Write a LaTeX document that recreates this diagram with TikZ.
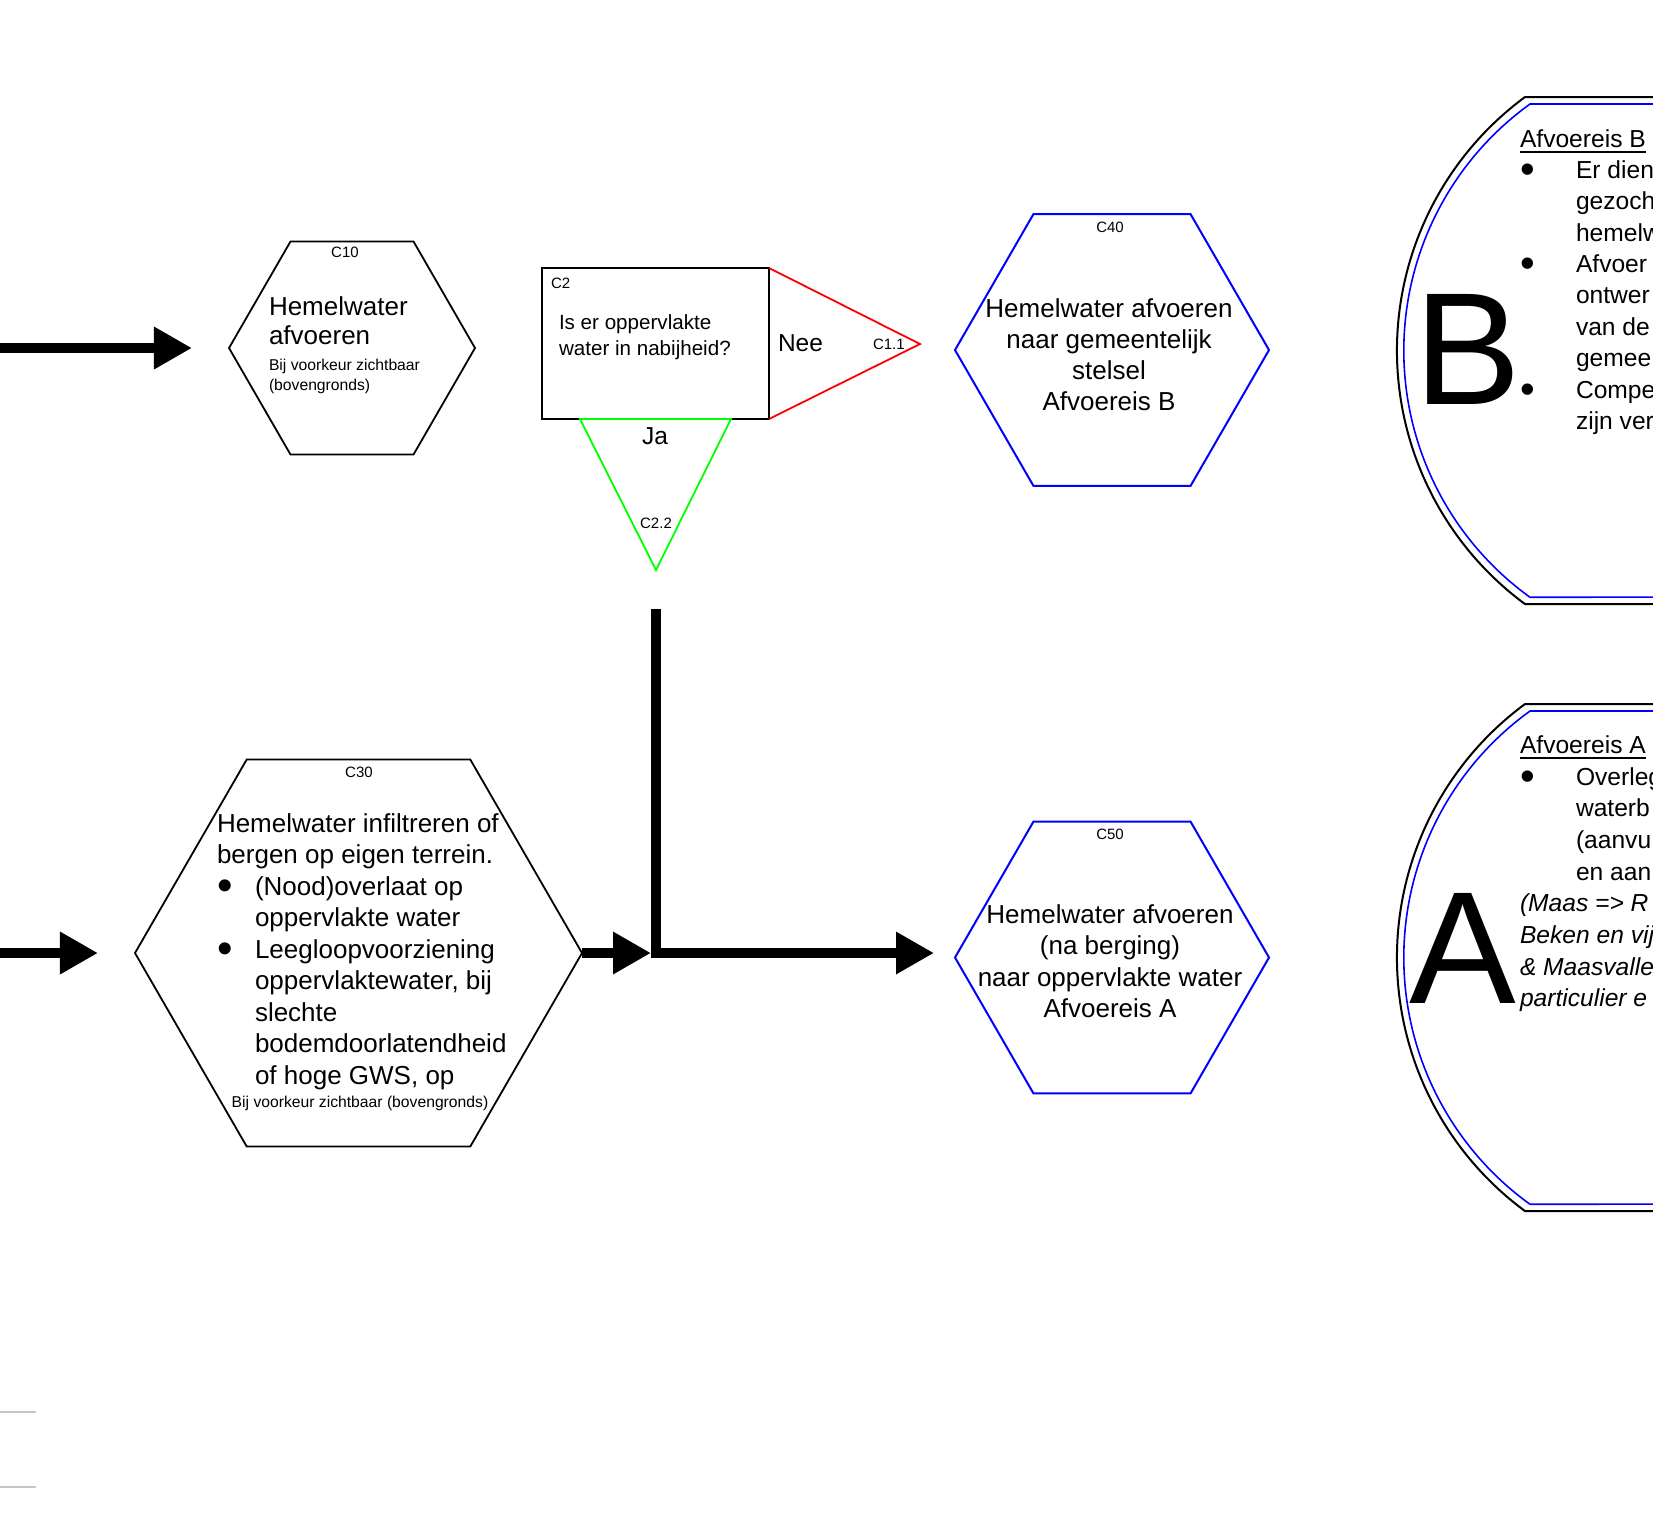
\documentclass[tikz,border=0pt]{standalone}
\usepackage{fontspec}
\setmainfont{Liberation Sans}
\usetikzlibrary{shapes.geometric,arrows.meta}

% one line of a text block
\newcommand\LineL[1]{\hbox{#1}}
% one centred line (zero width, centred on the node's anchor)
\newcommand\LineC[1]{\hbox to 0pt{\hss#1\hss}}
% enlarged bullet, kept on the same centre height
\newcommand\BigBul{\raisebox{-0.22em}{\scalebox{1.7}{\textbullet}}}
% bulleted line: bullet, then text at the given indent
\newcommand\LineB[2]{\hbox{\hbox to #1{\BigBul\hss}#2}}
% continuation line at the given indent
\newcommand\LineI[2]{\hbox{\kern#1#2}}
\newcommand\fs[2]{\fontsize{#1}{#2}\selectfont}

\begin{document}
\begin{tikzpicture}[x=0.5pt,y=-0.5pt,
  every node/.append style={outer sep=0pt},
  hexblack/.style={regular polygon, regular polygon sides=6, draw=black, line width=0.9pt, inner sep=0pt},
  hexblue/.style={regular polygon, regular polygon sides=6, draw=blue, line width=1pt, inner sep=0pt},
  txt/.style={inner sep=0pt, anchor=base west},
  txtc/.style={inner sep=0pt, anchor=base},
  flow/.style={line width=5pt, -{Triangle[length=19pt,width=20pt]}},
  eisframe/.style={line width=1pt, draw=black},
  eisinner/.style={line width=0.8pt, draw=blue}]

\useasboundingbox (0,0) rectangle (1653,1528);
\fill[white] (0,0) rectangle (1653,1528);
\clip (0,0) rectangle (1653,1528);

% ---- process steps ----
\node[hexblack, minimum size=123pt] (c10) at (352,348) {};
\node[draw, line width=0.9pt, minimum width=113.5pt, minimum height=75.5pt, inner sep=0pt] (c2) at (655.5,343.5) {};
\node[hexblue, minimum size=157pt] (c40) at (1112,350) {};
\node[hexblack, minimum size=223.5pt] (c30) at (358.5,953) {};
\node[hexblue, minimum size=157pt] (c50) at (1112,957.5) {};

% ---- decision outcomes ----
\coordinate (neetip) at (920,344);
\draw[red, line width=0.9pt] (c2.north east) -- (neetip) -- (c2.south east);
\coordinate (jaL) at (580,419);
\coordinate (jaR) at (731,419);
\coordinate (jatip) at (656,570);
\draw[green, line width=0.9pt] (jaL) -- (jatip) -- (jaR) -- cycle;

% ---- flow arrows ----
\coordinate (in1) at (0,348);
\coordinate (in2) at (0,953);
\coordinate (j) at (656,953);
\coordinate (vtop) at (656,609);
\draw[flow, shorten >=18.5pt] (in1) -- (c10);
\draw[flow, shorten >=18.5pt] (in2) -- (c30);
\draw[flow, shorten >=2.5pt] (c30) -- (j);
\draw[flow, shorten >=10.5pt] (vtop) -- (j) -- (j -| c50.west);

% ---- requirement panels B and A ----
\foreach \o in {0,607} {
  \draw[eisframe] (1720,{97+\o}) -- (1525,{97+\o})
     arc[start angle=126.4, end angle=233.6, radius=157.5pt] -- (1720,{604+\o});
  \draw[eisinner] (1720,{104+\o}) -- (1530,{104+\o})
     arc[start angle=125.8, end angle=234.2, radius=152.05pt] -- (1720,{597+\o});
}
\node[txt] (bigB) at (1414,404) {\fs{80pt}{80pt}B};
\node[txt] (bigA) at (1409,1003) {\fs{80pt}{80pt}A};

% ---- texts of C10 ----
\node[txtc] (c10id) at (345,257) {\fs{7.5pt}{9pt}C10};
\node[txt] (c10txt) at (269,315) {\fs{13pt}{14.5pt}\vtop{\LineL{Hemelwater}\LineL{afvoeren}}};
\node[txt] (c10sub) at (269,370) {\fs{7.85pt}{10pt}\vtop{\LineL{Bij voorkeur zichtbaar}\LineL{(bovengronds)}}};

% ---- texts of C2 ----
\node[txt] (c2id) at (551,288) {\fs{7.5pt}{9pt}C2};
\node[txt] (c2txt) at (559,329) {\fs{10.3pt}{13.2pt}\vtop{\LineL{Is er oppervlakte}\LineL{water in nabijheid?}}};
\node[txt] (nee) at (778,351) {\fs{12.25pt}{14pt}Nee};
\node[txt] (c11) at (873,349) {\fs{7.5pt}{9pt}C1.1};
\node[txtc] (ja) at (655,444) {\fs{12.25pt}{14pt}Ja};
\node[txtc] (c22) at (656,528) {\fs{7.5pt}{9pt}C2.2};

% ---- texts of C40 ----
\node[txtc] (c40id) at (1110,232) {\fs{7.5pt}{9pt}C40};
\node[txtc] (c40txt) at (1109,317) {\fs{13pt}{15.5pt}\vtop{\LineC{Hemelwater afvoeren}\LineC{naar gemeentelijk}\LineC{stelsel}\LineC{Afvoereis B}}};

% ---- texts of C30 ----
\node[txtc] (c30id) at (359,777) {\fs{7.5pt}{9pt}C30};
\node[txt] (c30txt) at (217,832) {\fs{13pt}{15.75pt}\vtop{
  \LineL{Hemelwater infiltreren of}
  \LineL{bergen op eigen terrein.}
  \LineB{19pt}{(Nood)overlaat op}
  \LineI{19pt}{oppervlakte water}
  \LineB{19pt}{Leegloopvoorziening}
  \LineI{19pt}{oppervlaktewater, bij}
  \LineI{19pt}{slechte}
  \LineI{19pt}{bodemdoorlatendheid}
  \LineI{19pt}{of hoge GWS, op}}};
\node[txtc] (c30sub) at (360,1107) {\fs{7.85pt}{9pt}Bij voorkeur zichtbaar (bovengronds)};

% ---- texts of C50 ----
\node[txtc] (c50id) at (1110,839) {\fs{7.5pt}{9pt}C50};
\node[txtc] (c50txt) at (1110,923) {\fs{13pt}{15.75pt}\vtop{\LineC{Hemelwater afvoeren}\LineC{(na berging)}\LineC{naar oppervlakte water}\LineC{Afvoereis A}}};

% ---- panel B text ----
\node[txt] (btitle) at (1520,147) {\fs{12.3pt}{15.7pt}Afvoereis B};
\draw[line width=1pt] ([yshift=-2.5pt]btitle.base west) -- ([yshift=-2.5pt]btitle.base east);
\node[txt] (blist) at (1520,178.3) {\fs{12.3pt}{15.7pt}\vtop{
  \LineB{28pt}{Er dien}
  \LineI{28pt}{gezoch}
  \LineI{28pt}{hemelw}
  \LineB{28pt}{Afvoer}
  \LineI{28pt}{ontwer}
  \LineI{28pt}{van de}
  \LineI{28pt}{gemee}
  \LineB{28pt}{Compe}
  \LineI{28pt}{zijn ver}}};

% ---- panel A text ----
\node[txt] (atitle) at (1520,753) {\fs{12.3pt}{15.85pt}Afvoereis A};
\draw[line width=1pt] ([yshift=-2.5pt]atitle.base west) -- ([yshift=-2.5pt]atitle.base east);
\node[txt] (alist) at (1520,785) {\fs{12.3pt}{15.85pt}\vtop{
  \LineB{28pt}{Overleg}
  \LineI{28pt}{waterb}
  \LineI{28pt}{(aanvu}
  \LineI{28pt}{en aan}
  \LineL{\itshape (Maas => R}
  \LineL{\itshape Beken en vij}
  \LineL{\itshape \& Maasvalle}
  \LineL{\itshape particulier e}}};

% ---- stray rules, lower left ----
\coordinate (g1a) at (0,1412);
\coordinate (g1b) at (36,1412);
\coordinate (g2a) at (0,1487);
\coordinate (g2b) at (36,1487);
\draw[gray!45, line width=1pt] (g1a) -- (g1b);
\draw[gray!45, line width=1pt] (g2a) -- (g2b);
\end{tikzpicture}
\end{document}
